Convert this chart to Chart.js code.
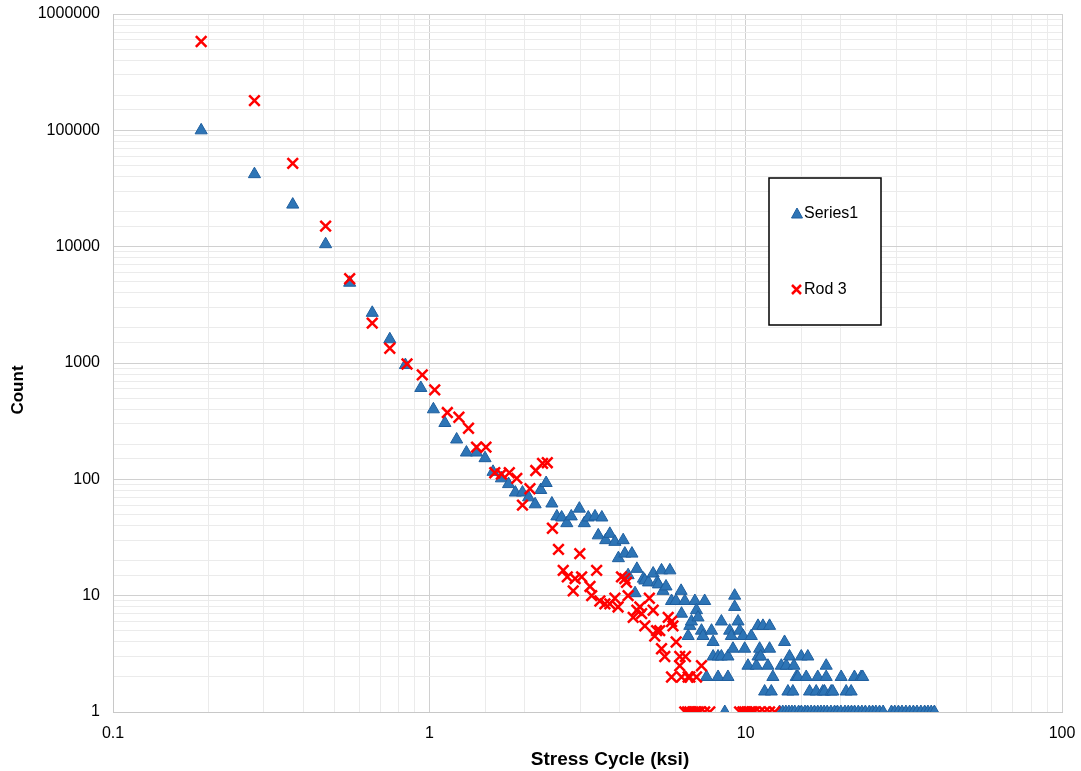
<!DOCTYPE html>
<html>
<head>
<meta charset="utf-8">
<script src="https://cdn.jsdelivr.net/npm/chart.js@4.4.0/dist/chart.umd.min.js"></script>
<style>
  html, body { margin: 0; padding: 0; background: #fff; }
  #wrap { width: 1081px; height: 771px; position: relative; }
</style>
</head>
<body>
<div id="wrap"><canvas id="chart"></canvas></div>
<script>
// Series1 (blue triangles)
const s1Stress = [0.19,0.28,0.37,0.47,0.56,0.66,0.75,0.84,0.94,1.03,1.12,1.22,1.31,1.41,1.50,1.59,1.69,1.78,1.87,1.97,
  2.06,2.16,2.25,2.34,2.44,2.53,2.62,2.72,2.81,2.98,3.09,3.18,3.34,3.42,3.51,3.61,3.72,3.86,3.96,4.10,
  4.15,4.25,4.37,4.47,4.53,4.75,4.80,4.93,5.10,5.25,5.30,5.42,5.48,5.60,5.76,5.83,6.02,6.25,6.27,6.42,
  6.58,6.66,6.74,6.91,6.99,7.07,7.25,7.33,7.42,7.52,7.80,7.89,7.89,8.18,8.18,8.38,8.38,8.59,8.79,8.79,
  8.90,9.01,9.12,9.23,9.23,9.46,9.57,9.81,9.93,10.17,10.42,10.81,10.94,10.94,11.07,11.15,11.34,11.48,11.76,11.90,
  11.90,12.05,12.19,12.96,13.27,13.44,13.60,13.76,14.10,14.21,14.45,14.62,14.99,15.54,15.72,15.92,16.71,16.90,17.53,17.75,
  17.97,17.97,18.64,18.86,20.04,20.78,21.55,22.07,23.17,23.44,
  12.8,13.1,13.4,13.7,14.0,14.3,14.7,15.0,15.4,15.7,16.1,16.5,16.9,17.3,17.7,18.1,18.6,19.1,19.5,20.0,
  20.6,21.1,21.6,22.1,22.7,23.3,23.9,24.6,25.2,25.8,26.5,27.2,28.9,29.6,30.4,31.2,32.1,33.0,33.9,34.8,
  35.8,36.8,37.7,38.6,39.5];
const s1Count = [100000,42000,23000,10500,4900,2700,1600,960,610,400,305,220,170,170,152,116,102,91,77,77,
  70,61,81,93,62,48,47,42,48,56,42,47,48,33,47,30,34,29,21,30,
  23,15,23,10.5,17,14,13.5,13,15.5,13,12.5,16.5,11,12,16.5,9,9,11,7,9,
  4.5,5.5,6,9,7.5,6.5,5,4.5,9,2,5,4,3,3,2,6,3,1,3,2,
  5,4.5,3.5,10,8,6,5,4.5,3.5,2.5,4.5,2.5,5.5,3,3.5,3,5.5,1.5,2.5,5.5,
  3.5,1.5,2,2.5,4,2.5,1.5,3,1.5,2.5,2,2,3,2,3,1.5,1.5,2,1.5,1.5,
  2.5,2,1.5,1.5,2,1.5,1.5,2,2,2,
  1,1,1,1,1,1,1,1,1,1,1,1,1,1,1,1,1,1,1,1,
  1,1,1,1,1,1,1,1,1,1,1,1,1,1,1,1,1,1,1,1,
  1,1,1,1,1];

// Rod 3 (red crosses)
const rodStress = [0.19,0.28,0.37,0.47,0.56,0.66,0.75,0.85,0.95,1.04,1.14,1.24,1.33,1.41,1.51,1.61,1.69,1.79,1.89,1.97,
  2.08,2.17,2.28,2.36,2.45,2.56,2.65,2.73,2.85,2.89,2.99,3.03,3.22,3.26,3.38,3.46,3.59,3.72,3.86,3.95,
  4.05,4.15,4.20,4.25,4.41,4.53,4.63,4.69,4.80,4.96,5.10,5.16,5.23,5.35,5.42,5.55,5.69,5.83,5.89,5.83,
  6.03,6.19,6.19,6.27,6.45,6.58,6.66,6.99,7.25,
  6.42,6.55,6.66,6.80,6.91,7.05,7.16,7.42,7.70,9.57,9.80,9.93,10.10,10.29,10.50,10.67,11.07,11.48,11.90,12.35];
const rodCount = [580000,180000,52000,15000,5300,2200,1340,980,790,587,375,342,275,189,189,114,111,114,102,60,
  83,119,137,139,38,25,16.5,14.5,11,14,23,14.5,12,10,16.5,9,8.5,8.5,9.5,8,
  14.5,14,13,10,6.5,7.5,8,7,5.5,9.5,7.5,4.5,5,5,3.5,3,6.5,6,5.5,2,
  4,3,2.5,2,3,2,2,2,2.5,
  1,1,1,1,1,1,1,1,1,1,1,1,1,1,1,1,1,1,1,1];

const yTickVals = [1, 10, 100, 1000, 10000, 100000, 1000000];
const xTickVals = [0.1, 1, 10, 100];

const toPoints = (xs, ys) => xs.map((x, i) => ({ x: x, y: ys[i] }));

function isDecade(v) {
  const l = Math.log10(v);
  return Math.abs(l - Math.round(l)) < 1e-6;
}

const FONT = "'Liberation Sans', Arial, sans-serif";

// legend box inside the plot + axis titles (placed like the excel original)
const extras = {
  id: 'extras',
  afterDatasetsDraw(chart) {
    const c = chart.ctx;
    c.save();
    c.fillStyle = '#fff';
    c.fillRect(769, 178, 112, 147);
    c.strokeStyle = '#000';
    c.lineWidth = 1.5;
    c.strokeRect(769, 178, 112, 147);

    // triangle marker
    c.beginPath();
    c.moveTo(797, 208);
    c.lineTo(802.5, 218);
    c.lineTo(791.5, 218);
    c.closePath();
    c.fillStyle = '#2E75B6';
    c.fill();
    c.strokeStyle = '#1F5F9F';
    c.lineWidth = 1;
    c.stroke();

    // cross marker
    c.beginPath();
    c.moveTo(792, 285); c.lineTo(801, 294);
    c.moveTo(801, 285); c.lineTo(792, 294);
    c.strokeStyle = '#FF0000';
    c.lineWidth = 2.5;
    c.stroke();

    c.fillStyle = '#000';
    c.font = '16px ' + FONT;
    c.textBaseline = 'middle';
    c.textAlign = 'left';
    c.fillText('Series1', 804, 214);
    c.fillText('Rod 3', 804, 290);

    // axis titles
    c.textAlign = 'center';
    c.font = 'bold 19px ' + FONT;
    c.fillText('Stress Cycle (ksi)', 610, 760);
    c.translate(18, 390);
    c.rotate(-Math.PI / 2);
    c.font = 'bold 17px ' + FONT;
    c.fillText('Count', 0, 0);
    c.restore();
  }
};

const noOverflow = s => {
  s.paddingTop = 0; s.paddingBottom = 0; s.paddingLeft = 0; s.paddingRight = 0;
};

new Chart(document.getElementById('chart'), {
  type: 'scatter',
  data: {
    datasets: [
      {
        label: 'Series1',
        data: toPoints(s1Stress, s1Count),
        pointStyle: 'triangle',
        pointRadius: 7,
        pointHoverRadius: 7,
        backgroundColor: '#2E75B6',
        borderColor: '#1F5F9F',
        borderWidth: 1,
        order: 1
      },
      {
        label: 'Rod 3',
        data: toPoints(rodStress, rodCount),
        pointStyle: 'crossRot',
        pointRadius: 7.5,
        pointHoverRadius: 7.5,
        backgroundColor: '#FF0000',
        borderColor: '#FF0000',
        borderWidth: 2.5,
        order: 0
      }
    ]
  },
  options: {
    responsive: true,
    maintainAspectRatio: false,
    animation: false,
    layout: { padding: { top: 14, right: 19, left: 0, bottom: 0 } },
    plugins: {
      legend: { display: false },
      tooltip: { enabled: false }
    },
    scales: {
      x: {
        type: 'logarithmic',
        min: 0.1,
        max: 100,
        afterFit: s => { s.height = 59; noOverflow(s); },
        border: { display: true, color: '#c8c8c8' },
        grid: {
          drawTicks: false,
          color: ctx => isDecade(ctx.tick.value) ? '#d0d0d0' : '#ebebeb'
        },
        ticks: {
          autoSkip: false,
          maxRotation: 0,
          padding: 12,
          color: '#000',
          font: { family: FONT, size: 16 },
          callback: v => xTickVals.some(t => Math.abs(t - v) < 1e-9) ? String(v) : ''
        }
      },
      y: {
        type: 'logarithmic',
        min: 1,
        max: 1000000,
        afterFit: s => { s.width = 113; noOverflow(s); },
        border: { display: true, color: '#c8c8c8' },
        grid: {
          drawTicks: false,
          color: ctx => isDecade(ctx.tick.value) ? '#d0d0d0' : '#ebebeb'
        },
        ticks: {
          autoSkip: false,
          padding: 13,
          color: '#000',
          font: { family: FONT, size: 16 },
          callback: v => yTickVals.includes(v) ? String(v) : ''
        }
      }
    }
  },
  plugins: [extras]
});
</script>
</body>
</html>
